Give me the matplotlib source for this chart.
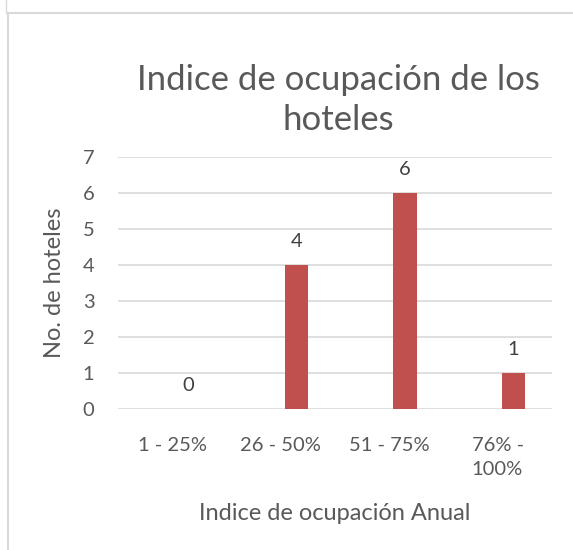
import matplotlib.pyplot as plt
from matplotlib import rcParams
from matplotlib.lines import Line2D

rcParams['font.family'] = ['Lato', 'DejaVu Sans']

categories = ['1 - 25%', '26 - 50%', '51 - 75%', '76% -\n100%']
hoteles = [0, 4, 6, 1]

text_color = '#595959'
grid_color = '#D9D9D9'
bar_color = '#C0504D'

W, H = 573, 550
fig = plt.figure(figsize=(W / 100, H / 100), dpi=100)

# Chart frame lines
fig.add_artist(Line2D([8 / W, 8 / W], [0, 1 - 13 / H], color=grid_color, lw=1.5))
fig.add_artist(Line2D([8 / W, 1], [1 - 13 / H, 1 - 13 / H], color=grid_color, lw=1.5))
fig.add_artist(Line2D([6 / W, 6 / W], [1 - 13 / H, 1], color=grid_color, lw=1.0))

ax = fig.add_axes([118 / W, 1 - 409 / H, (552 - 118) / W, (409 - 157) / H])

x = range(len(categories))
offset = 0.145
xb = [i + offset for i in x]
ax.bar(xb, hoteles, width=0.22, color=bar_color, zorder=3)

for xi, v in zip(xb, hoteles):
    ax.annotate(str(v), (xi, v), xytext=(0, 17), textcoords='offset points',
                ha='center', va='center', fontsize=14.5, color='#404040')

ax.set_xlim(-0.5, len(categories) - 0.5)
ax.set_ylim(0, 7)
ax.set_yticks(range(0, 8))
ax.set_xticks(list(x))
ax.set_xticklabels(categories, multialignment='left', linespacing=1.5)
ax.tick_params(axis='both', length=0, labelsize=14.5, colors=text_color)
ax.tick_params(axis='x', pad=20)
ax.tick_params(axis='y', pad=17)
ax.grid(axis='y', color=grid_color, lw=1.2, zorder=0)
for s in ax.spines.values():
    s.set_visible(False)

ax.set_ylabel('No. de hoteles', fontsize=17, color=text_color, labelpad=13)
ax.set_xlabel('Indice de ocupación Anual', fontsize=17, color=text_color, labelpad=18)

fig.text(338 / W, 1 - 100 / H, 'Indice de ocupación de los\nhoteles', ha='center',
         va='center', fontsize=25, color=text_color, linespacing=1.3)

fig.savefig('out.png', dpi=100)
